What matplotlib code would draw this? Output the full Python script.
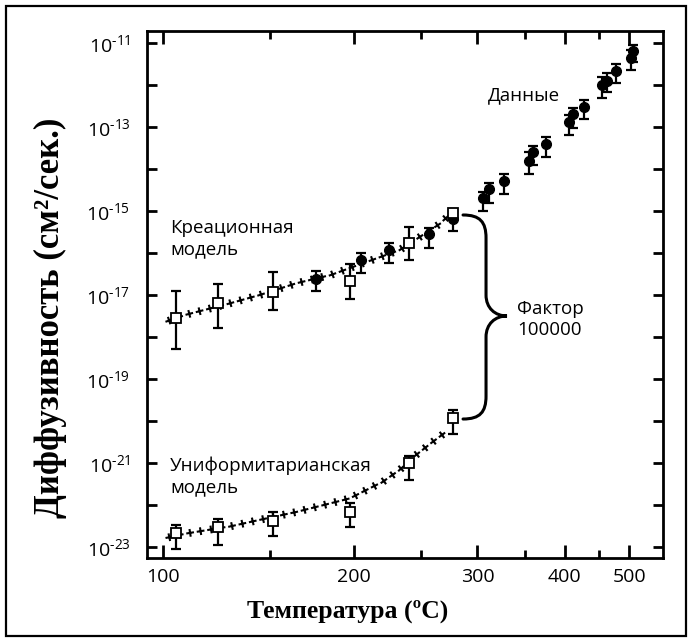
import numpy as np
import matplotlib
matplotlib.use('Agg')
import matplotlib.pyplot as plt
from matplotlib import patheffects as pe
from matplotlib.patches import Rectangle, PathPatch
from matplotlib.path import Path
from matplotlib.ticker import FixedLocator, FixedFormatter, NullFormatter

plt.rcParams['font.family'] = ['Open Sans', 'DejaVu Sans']
plt.rcParams['mathtext.fontset'] = 'custom'
plt.rcParams['mathtext.rm'] = 'Open Sans'
plt.rcParams['mathtext.it'] = 'Open Sans:italic'
plt.rcParams['mathtext.bf'] = 'Open Sans:bold'

# ---------------- data ----------------
sq_temp = [105.3, 124.2, 151.8, 197.8, 239.9, 277.0]
creation_log = [-17.54, -17.20, -16.94, -16.66, -15.77, -15.04]
creation_log_lo = [-18.29, -17.79, -17.36, -17.10, -16.17, -15.04]
creation_log_hi = [-16.91, -16.75, -16.45, -16.26, -15.37, -15.04]
uniform_log = [-22.67, -22.52, -22.38, -22.17, -21.00, -19.94]
uniform_log_lo = [-23.06, -22.96, -22.75, -22.54, -21.41, -20.31]
uniform_log_hi = [-22.48, -22.34, -22.17, -21.97, -20.84, -19.74]

data_temp = [176.0, 204.7, 225.2, 256.1, 277.0, 305.2, 311.9, 326.8, 355.6, 360.1,
             375.8, 405.8, 410.9, 427.6, 455.3, 463.3, 477.1, 503.1, 507.2]
data_log = [-16.63, -16.17, -15.93, -15.55, -15.20, -14.70, -14.48, -14.28, -13.81, -13.60,
            -13.39, -12.88, -12.69, -12.51, -11.99, -11.89, -11.65, -11.36, -11.18]
data_log_lo = [-16.90, -16.48, -16.23, -15.87, -15.47, -14.99, -14.81, -14.59, -14.12, -13.90,
               -13.72, -13.19, -13.02, -12.81, -12.30, -12.16, -11.95, -11.64, -11.45]
data_log_hi = [-16.43, -16.01, -15.77, -15.40, -14.95, -14.54, -14.34, -14.12, -13.60, -13.45,
               -13.24, -12.70, -12.55, -12.35, -11.80, -11.72, -11.49, -11.17, -11.04]

creation_model_temp = [100.4, 110.4, 129.8, 144.8, 164.8, 185.6, 197.4, 215.6, 232.8, 251.1, 265.1, 273.9]
creation_model_log = [-17.65, -17.46, -17.20, -17.00, -16.72, -16.52, -16.36, -16.13, -15.93, -15.57, -15.31, -15.09]
uniform_model_temp = [100.4, 110.4, 130.6, 144.8, 164.9, 197.4, 208.6, 220.4, 232.8, 245.8, 259.4, 271.0]
uniform_model_log = [-22.80, -22.68, -22.51, -22.36, -22.17, -21.85, -21.65, -21.45, -21.17, -20.81, -20.50, -20.26]

x_major = [100, 200, 300, 400, 500]
x_minor = [150, 250, 350, 450]
y_exps = list(range(-11, -24, -1))

labels = {
    'creation': 'Креационная\nмодель',
    'uniform': 'Униформитарианская\nмодель',
    'data': 'Данные',
    'factor': 'Фактор\n100000',
    'xlabel': 'Температура (ºC)',
    'ylabel': 'Диффузивность (см²/сек.)',
}

# ---------------- figure ----------------
fig = plt.figure(figsize=(6.92, 6.42), dpi=100)
fig.patches.append(Rectangle((0.008, 0.009), 0.984, 0.982, transform=fig.transFigure,
                             fill=False, edgecolor='black', linewidth=1.6))
ax = fig.add_axes([0.2124, 0.1308, 0.7453, 0.8214])


def fwd(t):
    t = np.asarray(t, dtype=float)
    return -1e4 / (t + 273.15)


def inv(u):
    u = np.asarray(u, dtype=float)
    with np.errstate(divide='ignore'):
        return -1e4 / u - 273.15


ax.set_xscale('function', functions=(fwd, inv))
ax.set_yscale('log')
ax.set_xlim(93.4, 564.7)
ax.set_ylim(10 ** -23.27, 10 ** -10.70)


def tolin(v):
    return 10.0 ** np.asarray(v, dtype=float)


def cross_line(xs, ys):
    X, Y = np.asarray(xs), tolin(ys)
    sp = 7.6
    ln = 0.27
    effects = [pe.TickedStroke(spacing=sp, angle=a, length=ln, linewidth=1.5,
                               foreground='black') for a in (0, 90, 180, 270)]
    ax.plot(X, Y, color='black', lw=1.0, path_effects=effects, zorder=2)


cross_line(creation_model_temp, creation_model_log)
cross_line(uniform_model_temp, uniform_model_log)

# data points (filled dots)
d = tolin(data_log)
ax.errorbar(data_temp, d, yerr=[d - tolin(data_log_lo), tolin(data_log_hi) - d],
            fmt='o', color='black', ms=7, elinewidth=1.6, capsize=3.6, capthick=1.6, zorder=3)

# model squares
for vals, lo, hi in ((creation_log, creation_log_lo, creation_log_hi),
                     (uniform_log, uniform_log_lo, uniform_log_hi)):
    v = tolin(vals)
    ax.errorbar(sq_temp, v, yerr=[v - tolin(lo), tolin(hi) - v], fmt='none',
                ecolor='black', elinewidth=1.6, capsize=3.6, capthick=1.6, zorder=4)
    ax.plot(sq_temp, v, 's', ms=7.0, mfc='white', mec='black', mew=1.3, zorder=5)

# axes styling
for s in ax.spines.values():
    s.set_linewidth(2.0)
ax.xaxis.set_major_locator(FixedLocator(x_major))
ax.xaxis.set_minor_locator(FixedLocator(x_minor))
ax.xaxis.set_major_formatter(FixedFormatter([str(v) for v in x_major]))
ax.xaxis.set_minor_formatter(NullFormatter())
ax.yaxis.set_major_locator(FixedLocator([10.0 ** e for e in y_exps]))
ax.yaxis.set_minor_locator(FixedLocator([]))
ax.yaxis.set_major_formatter(FixedFormatter(
    ['$\\mathregular{10^{\u2010%d}}$' % (-e) if e % 2 else '' for e in y_exps]))
ax.tick_params(axis='both', which='major', direction='in', top=True, right=True,
               width=2.0, labelsize=14)
ax.tick_params(axis='x', which='major', length=9.5, pad=7)
ax.tick_params(axis='x', which='minor', direction='in', top=True, width=2.0, length=6)
ax.tick_params(axis='y', which='major', length=7.5, pad=12)

ax.set_xlabel(labels['xlabel'], family=['Liberation Serif', 'DejaVu Serif'],
              fontweight='bold', fontsize=18.5)
ax.xaxis.set_label_coords(0.389, -0.078)
ax.set_ylabel(labels['ylabel'], family=['Liberation Serif', 'DejaVu Serif'],
              fontweight='bold', fontsize=25)
ax.yaxis.set_label_coords(-0.155, 0.455)

txt = dict(fontsize=13.5, color='black', ha='left', va='top', linespacing=1.2,
           transform=ax.transAxes)
ax.text(0.0446, 0.642, labels['creation'], **txt)
ax.text(0.0446, 0.192, labels['uniform'], **txt)
ax.text(0.661, 0.895, labels['data'], **txt)
ax.text(0.7175, 0.489, labels['factor'], **txt)

# curly brace (axes fraction)
verts = [(0.6128, 0.6505), (0.6457, 0.6505), (0.6574, 0.6372), (0.6574, 0.6069),
         (0.6574, 0.4988),
         (0.6574, 0.4741), (0.6748, 0.4590), (0.6981, 0.4590),
         (0.6748, 0.4590), (0.6574, 0.4438), (0.6574, 0.4191),
         (0.6574, 0.3072),
         (0.6574, 0.2768), (0.6457, 0.2636), (0.6128, 0.2636)]
codes = [Path.MOVETO, Path.CURVE4, Path.CURVE4, Path.CURVE4,
         Path.LINETO,
         Path.CURVE4, Path.CURVE4, Path.CURVE4,
         Path.CURVE4, Path.CURVE4, Path.CURVE4,
         Path.LINETO,
         Path.CURVE4, Path.CURVE4, Path.CURVE4]
ax.add_patch(PathPatch(Path(verts, codes), transform=ax.transAxes, fill=False,
                       edgecolor='black', linewidth=2.2, capstyle='round', zorder=6))

fig.savefig('out.png', dpi=100)
